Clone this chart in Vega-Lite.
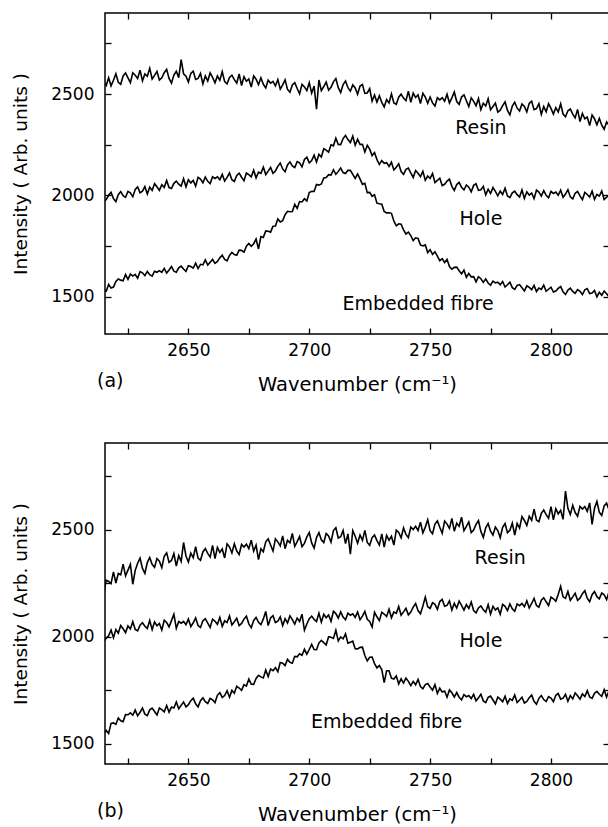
{
"$schema":"https://vega.github.io/schema/vega-lite/v6.json",
"padding":{"left":10,"top":11,"right":0,"bottom":0},
"config":{"font":"DejaVu Sans","view":{"stroke":"#000","strokeWidth":1.5},
"axis":{"domain":false,"grid":false,"tickColor":"#000","tickWidth":1.3,"tickSize":-6,"labelColor":"#000","labelFont":"DejaVu Sans","labelFontSize":17,"titleFont":"DejaVu Sans","titleFontSize":19,"titleFontWeight":"normal","titleColor":"#000","labelOverlap":false,"labelFlush":false,"labelBound":false}},
"datasets":{
"aR":[{"x":2615,"y":2557},{"x":2616,"y":2542},{"x":2617,"y":2580},{"x":2618,"y":2540},{"x":2619,"y":2568},{"x":2620,"y":2600},{"x":2621,"y":2558},{"x":2622,"y":2548},{"x":2623,"y":2589},{"x":2624,"y":2604},{"x":2625,"y":2580},{"x":2626,"y":2556},{"x":2627,"y":2605},{"x":2628,"y":2593},{"x":2629,"y":2577},{"x":2630,"y":2618},{"x":2631,"y":2565},{"x":2632,"y":2599},{"x":2633,"y":2588},{"x":2634,"y":2627},{"x":2635,"y":2574},{"x":2636,"y":2592},{"x":2637,"y":2611},{"x":2638,"y":2569},{"x":2639,"y":2580},{"x":2640,"y":2605},{"x":2641,"y":2622},{"x":2642,"y":2577},{"x":2643,"y":2554},{"x":2644,"y":2594},{"x":2645,"y":2612},{"x":2646,"y":2581},{"x":2647,"y":2670},{"x":2648,"y":2600},{"x":2649,"y":2588},{"x":2650,"y":2559},{"x":2651,"y":2602},{"x":2652,"y":2613},{"x":2653,"y":2572},{"x":2654,"y":2577},{"x":2655,"y":2602},{"x":2656,"y":2550},{"x":2657,"y":2589},{"x":2658,"y":2564},{"x":2659,"y":2604},{"x":2660,"y":2582},{"x":2661,"y":2555},{"x":2662,"y":2589},{"x":2663,"y":2568},{"x":2664,"y":2610},{"x":2665,"y":2561},{"x":2666,"y":2550},{"x":2667,"y":2582},{"x":2668,"y":2593},{"x":2669,"y":2571},{"x":2670,"y":2554},{"x":2671,"y":2599},{"x":2672,"y":2542},{"x":2673,"y":2586},{"x":2674,"y":2563},{"x":2675,"y":2574},{"x":2676,"y":2534},{"x":2677,"y":2589},{"x":2678,"y":2573},{"x":2679,"y":2546},{"x":2680,"y":2580},{"x":2681,"y":2548},{"x":2682,"y":2530},{"x":2683,"y":2568},{"x":2684,"y":2554},{"x":2685,"y":2562},{"x":2686,"y":2540},{"x":2687,"y":2571},{"x":2688,"y":2524},{"x":2689,"y":2545},{"x":2690,"y":2570},{"x":2691,"y":2523},{"x":2692,"y":2509},{"x":2693,"y":2545},{"x":2694,"y":2556},{"x":2695,"y":2527},{"x":2696,"y":2501},{"x":2697,"y":2548},{"x":2698,"y":2535},{"x":2699,"y":2517},{"x":2700,"y":2556},{"x":2701,"y":2504},{"x":2702,"y":2539},{"x":2703,"y":2425},{"x":2704,"y":2569},{"x":2705,"y":2517},{"x":2706,"y":2537},{"x":2707,"y":2559},{"x":2708,"y":2519},{"x":2709,"y":2533},{"x":2710,"y":2560},{"x":2711,"y":2576},{"x":2712,"y":2531},{"x":2713,"y":2507},{"x":2714,"y":2547},{"x":2715,"y":2564},{"x":2716,"y":2531},{"x":2717,"y":2514},{"x":2718,"y":2545},{"x":2719,"y":2530},{"x":2720,"y":2499},{"x":2721,"y":2539},{"x":2722,"y":2547},{"x":2723,"y":2503},{"x":2724,"y":2505},{"x":2725,"y":2527},{"x":2726,"y":2465},{"x":2727,"y":2495},{"x":2728,"y":2460},{"x":2729,"y":2491},{"x":2730,"y":2459},{"x":2731,"y":2436},{"x":2732,"y":2473},{"x":2733,"y":2456},{"x":2734,"y":2501},{"x":2735,"y":2456},{"x":2736,"y":2449},{"x":2737,"y":2484},{"x":2738,"y":2499},{"x":2739,"y":2480},{"x":2740,"y":2467},{"x":2741,"y":2514},{"x":2742,"y":2459},{"x":2743,"y":2504},{"x":2744,"y":2483},{"x":2745,"y":2496},{"x":2746,"y":2453},{"x":2747,"y":2504},{"x":2748,"y":2485},{"x":2749,"y":2454},{"x":2750,"y":2485},{"x":2751,"y":2456},{"x":2752,"y":2441},{"x":2753,"y":2482},{"x":2754,"y":2471},{"x":2755,"y":2482},{"x":2756,"y":2464},{"x":2757,"y":2499},{"x":2758,"y":2456},{"x":2759,"y":2481},{"x":2760,"y":2510},{"x":2761,"y":2463},{"x":2762,"y":2449},{"x":2763,"y":2485},{"x":2764,"y":2496},{"x":2765,"y":2467},{"x":2766,"y":2438},{"x":2767,"y":2481},{"x":2768,"y":2464},{"x":2769,"y":2442},{"x":2770,"y":2478},{"x":2771,"y":2423},{"x":2772,"y":2454},{"x":2773,"y":2441},{"x":2774,"y":2477},{"x":2775,"y":2422},{"x":2776,"y":2438},{"x":2777,"y":2455},{"x":2778,"y":2411},{"x":2779,"y":2420},{"x":2780,"y":2443},{"x":2781,"y":2461},{"x":2782,"y":2419},{"x":2783,"y":2397},{"x":2784,"y":2440},{"x":2785,"y":2459},{"x":2786,"y":2430},{"x":2787,"y":2416},{"x":2788,"y":2451},{"x":2789,"y":2439},{"x":2790,"y":2412},{"x":2791,"y":2454},{"x":2792,"y":2465},{"x":2793,"y":2423},{"x":2794,"y":2428},{"x":2795,"y":2452},{"x":2796,"y":2399},{"x":2797,"y":2438},{"x":2798,"y":2412},{"x":2799,"y":2452},{"x":2800,"y":2429},{"x":2801,"y":2401},{"x":2802,"y":2433},{"x":2803,"y":2411},{"x":2804,"y":2451},{"x":2805,"y":2401},{"x":2806,"y":2388},{"x":2807,"y":2417},{"x":2808,"y":2426},{"x":2809,"y":2401},{"x":2810,"y":2382},{"x":2811,"y":2424},{"x":2812,"y":2364},{"x":2813,"y":2404},{"x":2814,"y":2378},{"x":2815,"y":2386},{"x":2816,"y":2344},{"x":2817,"y":2396},{"x":2818,"y":2378},{"x":2819,"y":2348},{"x":2820,"y":2380},{"x":2821,"y":2346},{"x":2822,"y":2326},{"x":2823,"y":2362},{"x":2824,"y":2346}],
"aH":[{"x":2615,"y":1968},{"x":2616,"y":1979},{"x":2617,"y":2000},{"x":2618,"y":2015},{"x":2619,"y":1984},{"x":2620,"y":1969},{"x":2621,"y":2003},{"x":2622,"y":2018},{"x":2623,"y":1998},{"x":2624,"y":1990},{"x":2625,"y":2019},{"x":2626,"y":2012},{"x":2627,"y":1993},{"x":2628,"y":2029},{"x":2629,"y":2041},{"x":2630,"y":2012},{"x":2631,"y":2020},{"x":2632,"y":2043},{"x":2633,"y":2006},{"x":2634,"y":2040},{"x":2635,"y":2024},{"x":2636,"y":2057},{"x":2637,"y":2042},{"x":2638,"y":2024},{"x":2639,"y":2052},{"x":2640,"y":2039},{"x":2641,"y":2073},{"x":2642,"y":2038},{"x":2643,"y":2033},{"x":2644,"y":2059},{"x":2645,"y":2070},{"x":2646,"y":2055},{"x":2647,"y":2045},{"x":2648,"y":2082},{"x":2649,"y":2042},{"x":2650,"y":2077},{"x":2651,"y":2061},{"x":2652,"y":2073},{"x":2653,"y":2045},{"x":2654,"y":2089},{"x":2655,"y":2080},{"x":2656,"y":2062},{"x":2657,"y":2090},{"x":2658,"y":2069},{"x":2659,"y":2058},{"x":2660,"y":2091},{"x":2661,"y":2083},{"x":2662,"y":2091},{"x":2663,"y":2077},{"x":2664,"y":2103},{"x":2665,"y":2070},{"x":2666,"y":2088},{"x":2667,"y":2110},{"x":2668,"y":2077},{"x":2669,"y":2068},{"x":2670,"y":2098},{"x":2671,"y":2109},{"x":2672,"y":2089},{"x":2673,"y":2072},{"x":2674,"y":2110},{"x":2675,"y":2102},{"x":2676,"y":2091},{"x":2677,"y":2124},{"x":2678,"y":2086},{"x":2679,"y":2114},{"x":2680,"y":2108},{"x":2681,"y":2139},{"x":2682,"y":2102},{"x":2683,"y":2119},{"x":2684,"y":2137},{"x":2685,"y":2108},{"x":2686,"y":2120},{"x":2687,"y":2143},{"x":2688,"y":2159},{"x":2689,"y":2130},{"x":2690,"y":2116},{"x":2691,"y":2150},{"x":2692,"y":2165},{"x":2693,"y":2145},{"x":2694,"y":2137},{"x":2695,"y":2166},{"x":2696,"y":2160},{"x":2697,"y":2140},{"x":2698,"y":2177},{"x":2699,"y":2188},{"x":2700,"y":2160},{"x":2701,"y":2171},{"x":2702,"y":2198},{"x":2703,"y":2164},{"x":2704,"y":2202},{"x":2705,"y":2189},{"x":2706,"y":2230},{"x":2707,"y":2223},{"x":2708,"y":2213},{"x":2709,"y":2249},{"x":2710,"y":2244},{"x":2711,"y":2282},{"x":2712,"y":2251},{"x":2713,"y":2250},{"x":2714,"y":2280},{"x":2715,"y":2295},{"x":2716,"y":2275},{"x":2717,"y":2260},{"x":2718,"y":2292},{"x":2719,"y":2247},{"x":2720,"y":2277},{"x":2721,"y":2251},{"x":2722,"y":2252},{"x":2723,"y":2214},{"x":2724,"y":2247},{"x":2725,"y":2228},{"x":2726,"y":2196},{"x":2727,"y":2211},{"x":2728,"y":2176},{"x":2729,"y":2152},{"x":2730,"y":2171},{"x":2731,"y":2158},{"x":2732,"y":2161},{"x":2733,"y":2142},{"x":2734,"y":2163},{"x":2735,"y":2125},{"x":2736,"y":2138},{"x":2737,"y":2155},{"x":2738,"y":2117},{"x":2739,"y":2103},{"x":2740,"y":2128},{"x":2741,"y":2134},{"x":2742,"y":2110},{"x":2743,"y":2088},{"x":2744,"y":2122},{"x":2745,"y":2109},{"x":2746,"y":2092},{"x":2747,"y":2118},{"x":2748,"y":2074},{"x":2749,"y":2095},{"x":2750,"y":2083},{"x":2751,"y":2107},{"x":2752,"y":2063},{"x":2753,"y":2073},{"x":2754,"y":2084},{"x":2755,"y":2048},{"x":2756,"y":2054},{"x":2757,"y":2070},{"x":2758,"y":2080},{"x":2759,"y":2044},{"x":2760,"y":2024},{"x":2761,"y":2053},{"x":2762,"y":2064},{"x":2763,"y":2039},{"x":2764,"y":2027},{"x":2765,"y":2051},{"x":2766,"y":2040},{"x":2767,"y":2017},{"x":2768,"y":2049},{"x":2769,"y":2057},{"x":2770,"y":2024},{"x":2771,"y":2027},{"x":2772,"y":2044},{"x":2773,"y":2002},{"x":2774,"y":2030},{"x":2775,"y":2009},{"x":2776,"y":2038},{"x":2777,"y":2019},{"x":2778,"y":1997},{"x":2779,"y":2021},{"x":2780,"y":2004},{"x":2781,"y":2035},{"x":2782,"y":1997},{"x":2783,"y":1989},{"x":2784,"y":2012},{"x":2785,"y":2020},{"x":2786,"y":2003},{"x":2787,"y":1991},{"x":2788,"y":2026},{"x":2789,"y":1984},{"x":2790,"y":2017},{"x":2791,"y":2001},{"x":2792,"y":2011},{"x":2793,"y":1983},{"x":2794,"y":2025},{"x":2795,"y":2016},{"x":2796,"y":1996},{"x":2797,"y":2023},{"x":2798,"y":2000},{"x":2799,"y":1988},{"x":2800,"y":2019},{"x":2801,"y":2009},{"x":2802,"y":2016},{"x":2803,"y":2000},{"x":2804,"y":2025},{"x":2805,"y":1990},{"x":2806,"y":2006},{"x":2807,"y":2027},{"x":2808,"y":1992},{"x":2809,"y":1982},{"x":2810,"y":2010},{"x":2811,"y":2019},{"x":2812,"y":1997},{"x":2813,"y":1978},{"x":2814,"y":2014},{"x":2815,"y":2004},{"x":2816,"y":1991},{"x":2817,"y":2020},{"x":2818,"y":1980},{"x":2819,"y":2004},{"x":2820,"y":1996},{"x":2821,"y":2021},{"x":2822,"y":1979},{"x":2823,"y":1990},{"x":2824,"y":2003}],
"aE":[{"x":2615,"y":1527},{"x":2616,"y":1526},{"x":2617,"y":1559},{"x":2618,"y":1542},{"x":2619,"y":1547},{"x":2620,"y":1574},{"x":2621,"y":1587},{"x":2622,"y":1581},{"x":2623,"y":1578},{"x":2624,"y":1609},{"x":2625,"y":1585},{"x":2626,"y":1611},{"x":2627,"y":1601},{"x":2628,"y":1609},{"x":2629,"y":1590},{"x":2630,"y":1623},{"x":2631,"y":1617},{"x":2632,"y":1603},{"x":2633,"y":1624},{"x":2634,"y":1608},{"x":2635,"y":1601},{"x":2636,"y":1625},{"x":2637,"y":1620},{"x":2638,"y":1628},{"x":2639,"y":1619},{"x":2640,"y":1639},{"x":2641,"y":1616},{"x":2642,"y":1631},{"x":2643,"y":1648},{"x":2644,"y":1625},{"x":2645,"y":1620},{"x":2646,"y":1642},{"x":2647,"y":1650},{"x":2648,"y":1636},{"x":2649,"y":1624},{"x":2650,"y":1652},{"x":2651,"y":1648},{"x":2652,"y":1640},{"x":2653,"y":1665},{"x":2654,"y":1638},{"x":2655,"y":1659},{"x":2656,"y":1656},{"x":2657,"y":1681},{"x":2658,"y":1655},{"x":2659,"y":1669},{"x":2660,"y":1683},{"x":2661,"y":1664},{"x":2662,"y":1673},{"x":2663,"y":1691},{"x":2664,"y":1704},{"x":2665,"y":1683},{"x":2666,"y":1676},{"x":2667,"y":1703},{"x":2668,"y":1718},{"x":2669,"y":1707},{"x":2670,"y":1704},{"x":2671,"y":1729},{"x":2672,"y":1728},{"x":2673,"y":1719},{"x":2674,"y":1749},{"x":2675,"y":1762},{"x":2676,"y":1748},{"x":2677,"y":1761},{"x":2678,"y":1784},{"x":2679,"y":1735},{"x":2680,"y":1796},{"x":2681,"y":1792},{"x":2682,"y":1824},{"x":2683,"y":1822},{"x":2684,"y":1818},{"x":2685,"y":1847},{"x":2686,"y":1848},{"x":2687,"y":1883},{"x":2688,"y":1868},{"x":2689,"y":1875},{"x":2690,"y":1904},{"x":2691,"y":1921},{"x":2692,"y":1919},{"x":2693,"y":1920},{"x":2694,"y":1955},{"x":2695,"y":1935},{"x":2696,"y":1969},{"x":2697,"y":1967},{"x":2698,"y":1983},{"x":2699,"y":1972},{"x":2700,"y":2013},{"x":2701,"y":2020},{"x":2702,"y":2019},{"x":2703,"y":2053},{"x":2704,"y":2050},{"x":2705,"y":2056},{"x":2706,"y":2086},{"x":2707,"y":2088},{"x":2708,"y":2102},{"x":2709,"y":2100},{"x":2710,"y":2126},{"x":2711,"y":2103},{"x":2712,"y":2118},{"x":2713,"y":2135},{"x":2714,"y":2112},{"x":2715,"y":2107},{"x":2716,"y":2123},{"x":2717,"y":2123},{"x":2718,"y":2103},{"x":2719,"y":2083},{"x":2720,"y":2105},{"x":2721,"y":2081},{"x":2722,"y":2054},{"x":2723,"y":2059},{"x":2724,"y":2013},{"x":2725,"y":2014},{"x":2726,"y":1995},{"x":2727,"y":2003},{"x":2728,"y":1961},{"x":2729,"y":1958},{"x":2730,"y":1956},{"x":2731,"y":1920},{"x":2732,"y":1913},{"x":2733,"y":1914},{"x":2734,"y":1911},{"x":2735,"y":1873},{"x":2736,"y":1849},{"x":2737,"y":1859},{"x":2738,"y":1857},{"x":2739,"y":1829},{"x":2740,"y":1809},{"x":2741,"y":1818},{"x":2742,"y":1801},{"x":2743,"y":1776},{"x":2744,"y":1790},{"x":2745,"y":1787},{"x":2746,"y":1755},{"x":2747,"y":1750},{"x":2748,"y":1755},{"x":2749,"y":1717},{"x":2750,"y":1731},{"x":2751,"y":1708},{"x":2752,"y":1721},{"x":2753,"y":1700},{"x":2754,"y":1677},{"x":2755,"y":1687},{"x":2756,"y":1668},{"x":2757,"y":1683},{"x":2758,"y":1648},{"x":2759,"y":1635},{"x":2760,"y":1644},{"x":2761,"y":1645},{"x":2762,"y":1627},{"x":2763,"y":1612},{"x":2764,"y":1631},{"x":2765,"y":1595},{"x":2766,"y":1614},{"x":2767,"y":1597},{"x":2768,"y":1598},{"x":2769,"y":1572},{"x":2770,"y":1598},{"x":2771,"y":1588},{"x":2772,"y":1570},{"x":2773,"y":1587},{"x":2774,"y":1567},{"x":2775,"y":1556},{"x":2776,"y":1576},{"x":2777,"y":1567},{"x":2778,"y":1571},{"x":2779,"y":1558},{"x":2780,"y":1574},{"x":2781,"y":1547},{"x":2782,"y":1558},{"x":2783,"y":1571},{"x":2784,"y":1544},{"x":2785,"y":1535},{"x":2786,"y":1555},{"x":2787,"y":1559},{"x":2788,"y":1543},{"x":2789,"y":1527},{"x":2790,"y":1553},{"x":2791,"y":1545},{"x":2792,"y":1534},{"x":2793,"y":1555},{"x":2794,"y":1525},{"x":2795,"y":1542},{"x":2796,"y":1535},{"x":2797,"y":1556},{"x":2798,"y":1526},{"x":2799,"y":1536},{"x":2800,"y":1546},{"x":2801,"y":1522},{"x":2802,"y":1527},{"x":2803,"y":1540},{"x":2804,"y":1549},{"x":2805,"y":1523},{"x":2806,"y":1510},{"x":2807,"y":1532},{"x":2808,"y":1541},{"x":2809,"y":1525},{"x":2810,"y":1516},{"x":2811,"y":1534},{"x":2812,"y":1526},{"x":2813,"y":1510},{"x":2814,"y":1533},{"x":2815,"y":1539},{"x":2816,"y":1515},{"x":2817,"y":1517},{"x":2818,"y":1530},{"x":2819,"y":1499},{"x":2820,"y":1521},{"x":2821,"y":1506},{"x":2822,"y":1527},{"x":2823,"y":1514},{"x":2824,"y":1499}],
"bR":[{"x":2615,"y":2199},{"x":2616,"y":2264},{"x":2617,"y":2258},{"x":2618,"y":2248},{"x":2619,"y":2303},{"x":2620,"y":2251},{"x":2621,"y":2295},{"x":2622,"y":2289},{"x":2623,"y":2339},{"x":2624,"y":2284},{"x":2625,"y":2311},{"x":2626,"y":2338},{"x":2627,"y":2245},{"x":2628,"y":2310},{"x":2629,"y":2343},{"x":2630,"y":2367},{"x":2631,"y":2319},{"x":2632,"y":2296},{"x":2633,"y":2346},{"x":2634,"y":2370},{"x":2635,"y":2338},{"x":2636,"y":2324},{"x":2637,"y":2365},{"x":2638,"y":2353},{"x":2639,"y":2323},{"x":2640,"y":2376},{"x":2641,"y":2392},{"x":2642,"y":2347},{"x":2643,"y":2356},{"x":2644,"y":2388},{"x":2645,"y":2330},{"x":2646,"y":2379},{"x":2647,"y":2352},{"x":2648,"y":2440},{"x":2649,"y":2377},{"x":2650,"y":2349},{"x":2651,"y":2390},{"x":2652,"y":2369},{"x":2653,"y":2420},{"x":2654,"y":2367},{"x":2655,"y":2357},{"x":2656,"y":2396},{"x":2657,"y":2412},{"x":2658,"y":2389},{"x":2659,"y":2372},{"x":2660,"y":2427},{"x":2661,"y":2365},{"x":2662,"y":2417},{"x":2663,"y":2394},{"x":2664,"y":2410},{"x":2665,"y":2368},{"x":2666,"y":2434},{"x":2667,"y":2420},{"x":2668,"y":2391},{"x":2669,"y":2434},{"x":2670,"y":2400},{"x":2671,"y":2384},{"x":2672,"y":2431},{"x":2673,"y":2419},{"x":2674,"y":2432},{"x":2675,"y":2411},{"x":2676,"y":2451},{"x":2677,"y":2400},{"x":2678,"y":2428},{"x":2679,"y":2360},{"x":2680,"y":2411},{"x":2681,"y":2397},{"x":2682,"y":2443},{"x":2683,"y":2457},{"x":2684,"y":2428},{"x":2685,"y":2400},{"x":2686,"y":2457},{"x":2687,"y":2443},{"x":2688,"y":2424},{"x":2689,"y":2471},{"x":2690,"y":2411},{"x":2691,"y":2450},{"x":2692,"y":2439},{"x":2693,"y":2482},{"x":2694,"y":2422},{"x":2695,"y":2444},{"x":2696,"y":2468},{"x":2697,"y":2421},{"x":2698,"y":2436},{"x":2699,"y":2466},{"x":2700,"y":2487},{"x":2701,"y":2438},{"x":2702,"y":2414},{"x":2703,"y":2463},{"x":2704,"y":2486},{"x":2705,"y":2453},{"x":2706,"y":2440},{"x":2707,"y":2482},{"x":2708,"y":2471},{"x":2709,"y":2442},{"x":2710,"y":2496},{"x":2711,"y":2509},{"x":2712,"y":2461},{"x":2713,"y":2467},{"x":2714,"y":2496},{"x":2715,"y":2435},{"x":2716,"y":2480},{"x":2717,"y":2385},{"x":2718,"y":2495},{"x":2719,"y":2469},{"x":2720,"y":2437},{"x":2721,"y":2475},{"x":2722,"y":2450},{"x":2723,"y":2497},{"x":2724,"y":2440},{"x":2725,"y":2427},{"x":2726,"y":2463},{"x":2727,"y":2475},{"x":2728,"y":2449},{"x":2729,"y":2428},{"x":2730,"y":2480},{"x":2731,"y":2419},{"x":2732,"y":2473},{"x":2733,"y":2451},{"x":2734,"y":2469},{"x":2735,"y":2428},{"x":2736,"y":2498},{"x":2737,"y":2487},{"x":2738,"y":2462},{"x":2739,"y":2508},{"x":2740,"y":2478},{"x":2741,"y":2463},{"x":2742,"y":2512},{"x":2743,"y":2501},{"x":2744,"y":2516},{"x":2745,"y":2496},{"x":2746,"y":2535},{"x":2747,"y":2485},{"x":2748,"y":2512},{"x":2749,"y":2546},{"x":2750,"y":2495},{"x":2751,"y":2481},{"x":2752,"y":2526},{"x":2753,"y":2541},{"x":2754,"y":2511},{"x":2755,"y":2483},{"x":2756,"y":2540},{"x":2757,"y":2526},{"x":2758,"y":2506},{"x":2759,"y":2553},{"x":2760,"y":2493},{"x":2761,"y":2530},{"x":2762,"y":2516},{"x":2763,"y":2558},{"x":2764,"y":2495},{"x":2765,"y":2515},{"x":2766,"y":2536},{"x":2767,"y":2486},{"x":2768,"y":2498},{"x":2769,"y":2525},{"x":2770,"y":2543},{"x":2771,"y":2491},{"x":2772,"y":2464},{"x":2773,"y":2509},{"x":2774,"y":2529},{"x":2775,"y":2493},{"x":2776,"y":2475},{"x":2777,"y":2512},{"x":2778,"y":2496},{"x":2779,"y":2462},{"x":2780,"y":2511},{"x":2781,"y":2529},{"x":2782,"y":2486},{"x":2783,"y":2497},{"x":2784,"y":2531},{"x":2785,"y":2475},{"x":2786,"y":2529},{"x":2787,"y":2507},{"x":2788,"y":2561},{"x":2789,"y":2543},{"x":2790,"y":2520},{"x":2791,"y":2563},{"x":2792,"y":2544},{"x":2793,"y":2596},{"x":2794,"y":2545},{"x":2795,"y":2537},{"x":2796,"y":2576},{"x":2797,"y":2592},{"x":2798,"y":2570},{"x":2799,"y":2553},{"x":2800,"y":2608},{"x":2801,"y":2546},{"x":2802,"y":2598},{"x":2803,"y":2574},{"x":2804,"y":2590},{"x":2805,"y":2548},{"x":2806,"y":2680},{"x":2807,"y":2600},{"x":2808,"y":2571},{"x":2809,"y":2614},{"x":2810,"y":2580},{"x":2811,"y":2563},{"x":2812,"y":2609},{"x":2813,"y":2596},{"x":2814,"y":2608},{"x":2815,"y":2586},{"x":2816,"y":2625},{"x":2817,"y":2525},{"x":2818,"y":2600},{"x":2819,"y":2632},{"x":2820,"y":2581},{"x":2821,"y":2566},{"x":2822,"y":2611},{"x":2823,"y":2624},{"x":2824,"y":2594}],
"bH":[{"x":2615,"y":1975},{"x":2616,"y":1993},{"x":2617,"y":2004},{"x":2618,"y":2031},{"x":2619,"y":1995},{"x":2620,"y":2033},{"x":2621,"y":2016},{"x":2622,"y":2052},{"x":2623,"y":2037},{"x":2624,"y":2019},{"x":2625,"y":2050},{"x":2626,"y":2036},{"x":2627,"y":2070},{"x":2628,"y":2034},{"x":2629,"y":2027},{"x":2630,"y":2054},{"x":2631,"y":2065},{"x":2632,"y":2049},{"x":2633,"y":2038},{"x":2634,"y":2076},{"x":2635,"y":2033},{"x":2636,"y":2069},{"x":2637,"y":2051},{"x":2638,"y":2062},{"x":2639,"y":2031},{"x":2640,"y":2077},{"x":2641,"y":2066},{"x":2642,"y":2046},{"x":2643,"y":2075},{"x":2644,"y":2105},{"x":2645,"y":2039},{"x":2646,"y":2071},{"x":2647,"y":2063},{"x":2648,"y":2071},{"x":2649,"y":2056},{"x":2650,"y":2082},{"x":2651,"y":2047},{"x":2652,"y":2065},{"x":2653,"y":2088},{"x":2654,"y":2052},{"x":2655,"y":2043},{"x":2656,"y":2074},{"x":2657,"y":2084},{"x":2658,"y":2063},{"x":2659,"y":2043},{"x":2660,"y":2082},{"x":2661,"y":2072},{"x":2662,"y":2058},{"x":2663,"y":2090},{"x":2664,"y":2048},{"x":2665,"y":2074},{"x":2666,"y":2066},{"x":2667,"y":2097},{"x":2668,"y":2055},{"x":2669,"y":2070},{"x":2670,"y":2086},{"x":2671,"y":2052},{"x":2672,"y":2062},{"x":2673,"y":2082},{"x":2674,"y":2096},{"x":2675,"y":2060},{"x":2676,"y":2042},{"x":2677,"y":2076},{"x":2678,"y":2090},{"x":2679,"y":2067},{"x":2680,"y":2056},{"x":2681,"y":2083},{"x":2682,"y":2118},{"x":2683,"y":2052},{"x":2684,"y":2088},{"x":2685,"y":2098},{"x":2686,"y":2066},{"x":2687,"y":2072},{"x":2688,"y":2093},{"x":2689,"y":2052},{"x":2690,"y":2084},{"x":2691,"y":2064},{"x":2692,"y":2097},{"x":2693,"y":2080},{"x":2694,"y":2059},{"x":2695,"y":2087},{"x":2696,"y":2071},{"x":2697,"y":2105},{"x":2698,"y":2030},{"x":2699,"y":2059},{"x":2700,"y":2084},{"x":2701,"y":2096},{"x":2702,"y":2081},{"x":2703,"y":2071},{"x":2704,"y":2110},{"x":2705,"y":2068},{"x":2706,"y":2105},{"x":2707,"y":2089},{"x":2708,"y":2101},{"x":2709,"y":2072},{"x":2710,"y":2119},{"x":2711,"y":2108},{"x":2712,"y":2087},{"x":2713,"y":2116},{"x":2714,"y":2092},{"x":2715,"y":2079},{"x":2716,"y":2110},{"x":2717,"y":2100},{"x":2718,"y":2107},{"x":2719,"y":2090},{"x":2720,"y":2115},{"x":2721,"y":2079},{"x":2722,"y":2096},{"x":2723,"y":2118},{"x":2724,"y":2081},{"x":2725,"y":2071},{"x":2726,"y":2045},{"x":2727,"y":2114},{"x":2728,"y":2093},{"x":2729,"y":2075},{"x":2730,"y":2114},{"x":2731,"y":2106},{"x":2732,"y":2094},{"x":2733,"y":2128},{"x":2734,"y":2088},{"x":2735,"y":2116},{"x":2736,"y":2109},{"x":2737,"y":2141},{"x":2738,"y":2100},{"x":2739,"y":2116},{"x":2740,"y":2133},{"x":2741,"y":2102},{"x":2742,"y":2115},{"x":2743,"y":2138},{"x":2744,"y":2155},{"x":2745,"y":2122},{"x":2746,"y":2107},{"x":2747,"y":2143},{"x":2748,"y":2185},{"x":2749,"y":2140},{"x":2750,"y":2132},{"x":2751,"y":2159},{"x":2752,"y":2151},{"x":2753,"y":2128},{"x":2754,"y":2164},{"x":2755,"y":2174},{"x":2756,"y":2142},{"x":2757,"y":2146},{"x":2758,"y":2167},{"x":2759,"y":2124},{"x":2760,"y":2156},{"x":2761,"y":2134},{"x":2762,"y":2166},{"x":2763,"y":2146},{"x":2764,"y":2124},{"x":2765,"y":2150},{"x":2766,"y":2132},{"x":2767,"y":2162},{"x":2768,"y":2122},{"x":2769,"y":2111},{"x":2770,"y":2134},{"x":2771,"y":2144},{"x":2772,"y":2126},{"x":2773,"y":2114},{"x":2774,"y":2150},{"x":2775,"y":2106},{"x":2776,"y":2142},{"x":2777,"y":2125},{"x":2778,"y":2135},{"x":2779,"y":2105},{"x":2780,"y":2151},{"x":2781,"y":2142},{"x":2782,"y":2122},{"x":2783,"y":2153},{"x":2784,"y":2130},{"x":2785,"y":2119},{"x":2786,"y":2153},{"x":2787,"y":2145},{"x":2788,"y":2155},{"x":2789,"y":2140},{"x":2790,"y":2168},{"x":2791,"y":2134},{"x":2792,"y":2155},{"x":2793,"y":2179},{"x":2794,"y":2146},{"x":2795,"y":2138},{"x":2796,"y":2170},{"x":2797,"y":2182},{"x":2798,"y":2163},{"x":2799,"y":2145},{"x":2800,"y":2185},{"x":2801,"y":2177},{"x":2802,"y":2165},{"x":2803,"y":2198},{"x":2804,"y":2235},{"x":2805,"y":2186},{"x":2806,"y":2179},{"x":2807,"y":2211},{"x":2808,"y":2170},{"x":2809,"y":2186},{"x":2810,"y":2203},{"x":2811,"y":2170},{"x":2812,"y":2180},{"x":2813,"y":2201},{"x":2814,"y":2215},{"x":2815,"y":2180},{"x":2816,"y":2163},{"x":2817,"y":2196},{"x":2818,"y":2211},{"x":2819,"y":2187},{"x":2820,"y":2177},{"x":2821,"y":2204},{"x":2822,"y":2196},{"x":2823,"y":2173},{"x":2824,"y":2209}],
"bE":[{"x":2615,"y":1544},{"x":2616,"y":1562},{"x":2617,"y":1548},{"x":2618,"y":1595},{"x":2619,"y":1597},{"x":2620,"y":1590},{"x":2621,"y":1620},{"x":2622,"y":1607},{"x":2623,"y":1603},{"x":2624,"y":1636},{"x":2625,"y":1635},{"x":2626,"y":1644},{"x":2627,"y":1633},{"x":2628,"y":1657},{"x":2629,"y":1630},{"x":2630,"y":1647},{"x":2631,"y":1666},{"x":2632,"y":1638},{"x":2633,"y":1631},{"x":2634,"y":1658},{"x":2635,"y":1666},{"x":2636,"y":1650},{"x":2637,"y":1634},{"x":2638,"y":1667},{"x":2639,"y":1659},{"x":2640,"y":1649},{"x":2641,"y":1678},{"x":2642,"y":1647},{"x":2643,"y":1671},{"x":2644,"y":1667},{"x":2645,"y":1695},{"x":2646,"y":1663},{"x":2647,"y":1679},{"x":2648,"y":1695},{"x":2649,"y":1672},{"x":2650,"y":1682},{"x":2651,"y":1701},{"x":2652,"y":1713},{"x":2653,"y":1686},{"x":2654,"y":1672},{"x":2655,"y":1701},{"x":2656,"y":1714},{"x":2657,"y":1696},{"x":2658,"y":1688},{"x":2659,"y":1712},{"x":2660,"y":1705},{"x":2661,"y":1692},{"x":2662,"y":1726},{"x":2663,"y":1738},{"x":2664,"y":1716},{"x":2665,"y":1725},{"x":2666,"y":1747},{"x":2667,"y":1717},{"x":2668,"y":1749},{"x":2669,"y":1736},{"x":2670,"y":1768},{"x":2671,"y":1760},{"x":2672,"y":1749},{"x":2673,"y":1776},{"x":2674,"y":1769},{"x":2675,"y":1802},{"x":2676,"y":1778},{"x":2677,"y":1777},{"x":2678,"y":1805},{"x":2679,"y":1819},{"x":2680,"y":1812},{"x":2681,"y":1807},{"x":2682,"y":1844},{"x":2683,"y":1814},{"x":2684,"y":1849},{"x":2685,"y":1841},{"x":2686,"y":1855},{"x":2687,"y":1836},{"x":2688,"y":1879},{"x":2689,"y":1876},{"x":2690,"y":1865},{"x":2691,"y":1894},{"x":2692,"y":1880},{"x":2693,"y":1876},{"x":2694,"y":1908},{"x":2695,"y":1906},{"x":2696,"y":1920},{"x":2697,"y":1913},{"x":2698,"y":1941},{"x":2699,"y":1918},{"x":2700,"y":1940},{"x":2701,"y":1964},{"x":2702,"y":1940},{"x":2703,"y":1939},{"x":2704,"y":1970},{"x":2705,"y":1983},{"x":2706,"y":1972},{"x":2707,"y":1961},{"x":2708,"y":2000},{"x":2709,"y":1997},{"x":2710,"y":1992},{"x":2711,"y":2030},{"x":2712,"y":1980},{"x":2713,"y":1999},{"x":2714,"y":1990},{"x":2715,"y":2013},{"x":2716,"y":1970},{"x":2717,"y":1974},{"x":2718,"y":1979},{"x":2719,"y":1944},{"x":2720,"y":1943},{"x":2721,"y":1950},{"x":2722,"y":1951},{"x":2723,"y":1912},{"x":2724,"y":1887},{"x":2725,"y":1904},{"x":2726,"y":1905},{"x":2727,"y":1874},{"x":2728,"y":1854},{"x":2729,"y":1865},{"x":2730,"y":1846},{"x":2731,"y":1785},{"x":2732,"y":1841},{"x":2733,"y":1841},{"x":2734,"y":1806},{"x":2735,"y":1802},{"x":2736,"y":1816},{"x":2737,"y":1779},{"x":2738,"y":1803},{"x":2739,"y":1783},{"x":2740,"y":1807},{"x":2741,"y":1791},{"x":2742,"y":1771},{"x":2743,"y":1791},{"x":2744,"y":1775},{"x":2745,"y":1800},{"x":2746,"y":1767},{"x":2747,"y":1757},{"x":2748,"y":1776},{"x":2749,"y":1781},{"x":2750,"y":1765},{"x":2751,"y":1750},{"x":2752,"y":1776},{"x":2753,"y":1735},{"x":2754,"y":1759},{"x":2755,"y":1741},{"x":2756,"y":1746},{"x":2757,"y":1717},{"x":2758,"y":1751},{"x":2759,"y":1738},{"x":2760,"y":1718},{"x":2761,"y":1739},{"x":2762,"y":1717},{"x":2763,"y":1705},{"x":2764,"y":1729},{"x":2765,"y":1719},{"x":2766,"y":1725},{"x":2767,"y":1711},{"x":2768,"y":1730},{"x":2769,"y":1700},{"x":2770,"y":1714},{"x":2771,"y":1731},{"x":2772,"y":1700},{"x":2773,"y":1692},{"x":2774,"y":1716},{"x":2775,"y":1722},{"x":2776,"y":1704},{"x":2777,"y":1686},{"x":2778,"y":1718},{"x":2779,"y":1708},{"x":2780,"y":1696},{"x":2781,"y":1722},{"x":2782,"y":1688},{"x":2783,"y":1709},{"x":2784,"y":1702},{"x":2785,"y":1727},{"x":2786,"y":1692},{"x":2787,"y":1704},{"x":2788,"y":1717},{"x":2789,"y":1690},{"x":2790,"y":1697},{"x":2791,"y":1715},{"x":2792,"y":1727},{"x":2793,"y":1698},{"x":2794,"y":1684},{"x":2795,"y":1712},{"x":2796,"y":1725},{"x":2797,"y":1706},{"x":2798,"y":1697},{"x":2799,"y":1720},{"x":2800,"y":1713},{"x":2801,"y":1696},{"x":2802,"y":1726},{"x":2803,"y":1734},{"x":2804,"y":1708},{"x":2805,"y":1713},{"x":2806,"y":1731},{"x":2807,"y":1698},{"x":2808,"y":1725},{"x":2809,"y":1709},{"x":2810,"y":1737},{"x":2811,"y":1724},{"x":2812,"y":1708},{"x":2813,"y":1732},{"x":2814,"y":1720},{"x":2815,"y":1748},{"x":2816,"y":1718},{"x":2817,"y":1712},{"x":2818,"y":1735},{"x":2819,"y":1744},{"x":2820,"y":1731},{"x":2821,"y":1721},{"x":2822,"y":1752},{"x":2823,"y":1718},{"x":2824,"y":1747}],
"labA":[{"t":"Resin","x":2771,"y":2332},{"t":"Hole","x":2771,"y":1883},{"t":"Embedded fibre","x":2745,"y":1465}],
"labB":[{"t":"Resin","x":2779,"y":2366},{"t":"Hole","x":2771,"y":1981},{"t":"Embedded fibre","x":2732,"y":1603}]
},
"bounds":"flush",
"spacing":109,
"vconcat":[
{"width":504,"height":321,
"title":{"text":"(a)","orient":"bottom","anchor":"start","frame":"group","fontSize":19,"fontWeight":"normal","font":"DejaVu Sans","color":"#000","offset":0,"dx":-8,"dy":-22},
"resolve":{"axis":{"x":"independent","y":"independent"}},
"layer":[
{"data":{"name":"aR"},"mark":{"type":"line","color":"#000","strokeWidth":1.6,"clip":true},
"encoding":{"x":{"field":"x","type":"quantitative","scale":{"domain":[2615.5,2824],"nice":false,"zero":false},
"axis":{"orient":"bottom","values":[2625,2650,2675,2700,2725,2750,2775,2800],"labelExpr":"datum.value % 50 === 0 ? datum.label : ''","format":"d","title":"Wavenumber (cm⁻¹)","labelPadding":14,"titlePadding":17,"titleFontSize":19.5}},
"y":{"field":"y","type":"quantitative","scale":{"domain":[1315,2900],"nice":false,"zero":false},
"axis":{"orient":"left","values":[1500,1750,2000,2250,2500,2750],"labelExpr":"datum.value % 500 === 0 ? datum.label : ''","format":"d","title":"Intensity ( Arb. units )","labelPadding":17,"titlePadding":20,"titleFontSize":18.5}}}},
{"data":{"name":"aH"},"mark":{"type":"line","color":"#000","strokeWidth":1.6,"clip":true},
"encoding":{"x":{"field":"x","type":"quantitative","scale":{"domain":[2615.5,2824],"nice":false,"zero":false},"axis":null},
"y":{"field":"y","type":"quantitative","scale":{"domain":[1315,2900],"nice":false,"zero":false},"axis":null}}},
{"data":{"name":"aE"},"mark":{"type":"line","color":"#000","strokeWidth":1.6,"clip":true},
"encoding":{"x":{"field":"x","type":"quantitative","scale":{"domain":[2615.5,2824],"nice":false,"zero":false},"axis":null},
"y":{"field":"y","type":"quantitative","scale":{"domain":[1315,2900],"nice":false,"zero":false},"axis":null}}},
{"data":{"name":"labA"},"mark":{"type":"text","color":"#000","font":"DejaVu Sans","fontSize":19,"align":"center","baseline":"middle"},
"encoding":{"x":{"field":"x","type":"quantitative","scale":{"domain":[2615.5,2824],"nice":false,"zero":false},"axis":{"orient":"top","values":[2625,2650,2675,2700,2725,2750,2775,2800],"labels":false,"title":null}},
"y":{"field":"y","type":"quantitative","scale":{"domain":[1315,2900],"nice":false,"zero":false},"axis":{"orient":"right","values":[1500,1750,2000,2250,2500,2750],"labels":false,"title":null}},
"text":{"field":"t"}}}
]},
{"width":504,"height":321,
"title":{"text":"(b)","orient":"bottom","anchor":"start","frame":"group","fontSize":19,"fontWeight":"normal","font":"DejaVu Sans","color":"#000","offset":0,"dx":-8,"dy":-22},
"resolve":{"axis":{"x":"independent","y":"independent"}},
"layer":[
{"data":{"name":"bR"},"mark":{"type":"line","color":"#000","strokeWidth":1.6,"clip":true},
"encoding":{"x":{"field":"x","type":"quantitative","scale":{"domain":[2615.5,2824],"nice":false,"zero":false},
"axis":{"orient":"bottom","values":[2625,2650,2675,2700,2725,2750,2775,2800],"labelExpr":"datum.value % 50 === 0 ? datum.label : ''","format":"d","title":"Wavenumber (cm⁻¹)","labelPadding":14,"titlePadding":17,"titleFontSize":19.5}},
"y":{"field":"y","type":"quantitative","scale":{"domain":[1405,2905],"nice":false,"zero":false},
"axis":{"orient":"left","values":[1500,1750,2000,2250,2500,2750],"labelExpr":"datum.value % 500 === 0 ? datum.label : ''","format":"d","title":"Intensity ( Arb. units )","labelPadding":17,"titlePadding":20,"titleFontSize":18.5}}}},
{"data":{"name":"bH"},"mark":{"type":"line","color":"#000","strokeWidth":1.6,"clip":true},
"encoding":{"x":{"field":"x","type":"quantitative","scale":{"domain":[2615.5,2824],"nice":false,"zero":false},"axis":null},
"y":{"field":"y","type":"quantitative","scale":{"domain":[1405,2905],"nice":false,"zero":false},"axis":null}}},
{"data":{"name":"bE"},"mark":{"type":"line","color":"#000","strokeWidth":1.6,"clip":true},
"encoding":{"x":{"field":"x","type":"quantitative","scale":{"domain":[2615.5,2824],"nice":false,"zero":false},"axis":null},
"y":{"field":"y","type":"quantitative","scale":{"domain":[1405,2905],"nice":false,"zero":false},"axis":null}}},
{"data":{"name":"labB"},"mark":{"type":"text","color":"#000","font":"DejaVu Sans","fontSize":19,"align":"center","baseline":"middle"},
"encoding":{"x":{"field":"x","type":"quantitative","scale":{"domain":[2615.5,2824],"nice":false,"zero":false},"axis":{"orient":"top","values":[2625,2650,2675,2700,2725,2750,2775,2800],"labels":false,"title":null}},
"y":{"field":"y","type":"quantitative","scale":{"domain":[1405,2905],"nice":false,"zero":false},"axis":{"orient":"right","values":[1500,1750,2000,2250,2500,2750],"labels":false,"title":null}},
"text":{"field":"t"}}}
]}
]
}
